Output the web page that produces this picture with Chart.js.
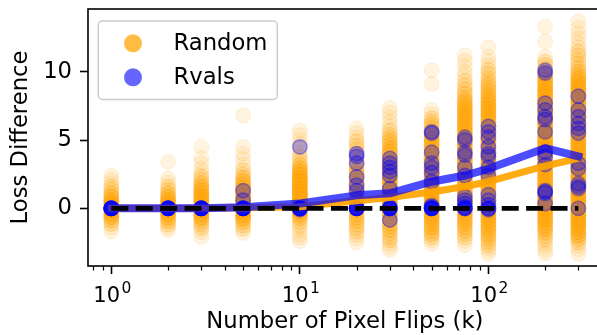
<!DOCTYPE html>
<html>
<head>
<meta charset="utf-8">
<script src="https://cdn.jsdelivr.net/npm/chart.js@4.4.1/dist/chart.umd.min.js"></script>
<style>
  html, body { margin: 0; padding: 0; background: #ffffff; overflow: hidden; }
  #wrap { width: 597px; height: 335px; overflow: hidden; position: relative; }
  canvas { display: block; }
</style>
</head>
<body>
<div id="wrap"><canvas id="chart" width="611" height="335"></canvas></div>
<script>
// Number of flipped pixels (thousands) for each experiment column
const flipCounts = [1, 2, 3, 5, 10, 20, 30, 50, 75, 100, 200, 300];

// Random-flip trials per flip count, as [loss difference, number of trials]
const randomAt1 = [[2.4,1],[2.1,1],[1.85,1],[1.6,2],[1.35,2],[1.1,3],[0.85,4],[0.6,6],[0.35,7],[0.1,7],[0.0,8],[-0.15,7],[-0.4,6],[-0.65,5],[-0.9,3],[-1.15,2],[-1.4,1],[-1.7,1]];
const randomAt2 = [[3.4,1],[2.2,1],[1.9,1],[1.6,2],[1.35,2],[1.1,3],[0.85,4],[0.6,6],[0.35,6],[0.1,7],[0.0,7],[-0.2,6],[-0.45,6],[-0.7,4],[-0.95,3],[-1.2,2],[-1.4,1],[-1.6,1]];
const randomAt3 = [[4.5,1],[3.7,1],[3.3,1],[2.9,1],[2.6,1],[2.35,2],[2.1,2],[1.85,3],[1.6,4],[1.35,5],[1.1,5],[0.85,6],[0.6,6],[0.35,6],[0.1,7],[0.0,6],[-0.2,6],[-0.45,6],[-0.7,5],[-0.95,3],[-1.2,2],[-1.45,2],[-1.75,1],[-2.1,1]];
const randomAt5 = [[6.8,1],[4.5,1],[4.0,1],[3.6,1],[3.2,1],[2.8,2],[2.5,2],[2.25,3],[2.0,4],[1.75,4],[1.5,5],[1.25,5],[1.0,6],[0.75,6],[0.5,6],[0.25,6],[0.0,7],[-0.25,6],[-0.5,6],[-0.75,5],[-1.0,3],[-1.25,2],[-1.5,2],[-1.8,1]];
const randomAt10 = [[5.7,1],[5.35,1],[5.0,1],[4.7,1],[4.4,1],[4.1,1],[3.8,2],[3.5,2],[3.2,3],[2.95,4],[2.7,5],[2.45,6],[2.2,6],[1.95,7],[1.7,7],[1.45,7],[1.2,7],[0.95,7],[0.7,7],[0.45,7],[0.2,7],[0.0,6],[-0.25,5],[-0.5,4],[-0.75,3],[-1.0,2],[-1.3,2],[-1.6,1],[-1.9,1],[-2.15,1],[-2.4,1]];
const randomAt20 = [[5.85,1],[5.5,1],[5.2,1],[4.9,2],[4.6,2],[4.3,2],[4.0,2],[3.7,2],[3.4,3],[3.1,3],[2.8,3],[2.55,4],[2.3,4],[2.05,4],[1.8,4],[1.55,4],[1.3,4],[1.05,4],[0.8,4],[0.55,4],[0.3,4],[0.05,4],[-0.2,3],[-0.45,3],[-0.7,3],[-0.95,3],[-1.2,2],[-1.45,2],[-1.7,2],[-1.95,1],[-2.2,1],[-2.5,1]];
const randomAt30 = [[7.35,1],[7.0,1],[6.65,1],[6.3,1],[6.0,1],[5.7,2],[5.4,2],[5.15,3],[4.9,3],[4.65,3],[4.4,4],[4.15,4],[3.9,4],[3.65,5],[3.4,5],[3.15,5],[2.9,5],[2.65,5],[2.4,6],[2.15,6],[1.9,6],[1.65,6],[1.4,6],[1.15,6],[0.9,6],[0.65,6],[0.4,6],[0.15,6],[-0.1,5],[-0.35,5],[-0.6,4],[-0.85,4],[-1.1,3],[-1.35,3],[-1.6,3],[-1.85,2],[-2.1,2],[-2.35,2],[-2.6,1],[-2.85,1],[-3.05,1]];
const randomAt50 = [[10.1,1],[9.1,1],[7.2,1],[6.9,1],[6.6,2],[6.35,2],[6.1,3],[5.85,3],[5.6,4],[5.35,4],[5.1,5],[4.85,5],[4.6,5],[4.35,5],[4.1,5],[3.85,5],[3.6,5],[3.35,5],[3.1,5],[2.85,5],[2.6,6],[2.35,6],[2.1,6],[1.85,6],[1.6,6],[1.35,6],[1.1,6],[0.85,6],[0.6,6],[0.35,6],[0.1,6],[-0.15,5],[-0.4,5],[-0.65,5],[-0.9,4],[-1.15,4],[-1.4,4],[-1.65,3],[-1.9,3],[-2.15,2],[-2.35,1],[-2.6,1]];
const randomAt75 = [[11.2,1],[10.8,1],[10.4,1],[10.0,1],[9.7,1],[9.35,2],[9.0,2],[8.7,2],[8.4,3],[8.1,3],[7.85,4],[7.6,4],[7.35,5],[7.1,5],[6.85,5],[6.6,5],[6.35,5],[6.1,5],[5.85,5],[5.6,5],[5.35,5],[5.1,5],[4.85,5],[4.6,5],[4.35,5],[4.1,5],[3.85,5],[3.6,5],[3.35,5],[3.1,5],[2.85,5],[2.6,5],[2.35,5],[2.1,5],[1.85,5],[1.6,5],[1.35,5],[1.1,5],[0.85,5],[0.6,5],[0.35,5],[0.1,5],[-0.15,5],[-0.4,5],[-0.65,4],[-0.9,4],[-1.15,4],[-1.4,3],[-1.65,3],[-1.9,2],[-2.15,2],[-2.4,1],[-2.7,1]];
const randomAt100 = [[11.8,1],[11.1,1],[10.75,1],[10.45,1],[10.15,2],[9.85,2],[9.55,2],[9.3,2],[9.05,3],[8.8,3],[8.55,3],[8.3,4],[8.05,4],[7.8,5],[7.55,5],[7.3,5],[7.05,5],[6.8,5],[6.55,5],[6.3,5],[6.05,5],[5.8,5],[5.55,5],[5.3,5],[5.05,5],[4.8,5],[4.55,5],[4.3,5],[4.05,5],[3.8,5],[3.55,5],[3.3,5],[3.05,5],[2.8,5],[2.55,5],[2.3,5],[2.05,5],[1.8,5],[1.55,5],[1.3,5],[1.05,5],[0.8,5],[0.55,5],[0.3,5],[0.05,5],[-0.2,5],[-0.45,5],[-0.7,5],[-0.95,5],[-1.2,4],[-1.45,4],[-1.7,4],[-1.95,3],[-2.2,3],[-2.45,2],[-2.7,2],[-2.9,1],[-3.1,1],[-3.35,1]];
const randomAt200 = [[13.3,1],[12.2,1],[11.1,1],[10.75,2],[10.5,2],[10.2,3],[9.95,3],[9.7,4],[9.45,5],[9.2,5],[8.95,5],[8.7,6],[8.45,6],[8.2,6],[7.95,6],[7.7,6],[7.45,6],[7.2,6],[6.95,6],[6.7,6],[6.45,6],[6.2,6],[5.95,6],[5.7,6],[5.45,6],[5.2,6],[4.95,6],[4.7,6],[4.45,6],[4.2,6],[3.95,6],[3.7,6],[3.45,6],[3.2,6],[2.95,6],[2.7,6],[2.45,6],[2.2,6],[1.95,6],[1.7,6],[1.45,6],[1.2,6],[0.95,6],[0.7,6],[0.45,6],[0.2,6],[-0.05,6],[-0.3,6],[-0.55,5],[-0.8,5],[-1.05,5],[-1.3,4],[-1.55,4],[-1.8,3],[-2.05,2],[-2.3,2],[-2.55,1],[-2.8,1],[-3.05,1],[-3.3,1]];
const randomAt300 = [[13.7,1],[13.2,1],[12.8,1],[12.45,1],[12.1,1],[11.8,1],[11.5,2],[11.2,2],[10.9,2],[10.6,2],[10.3,3],[10.0,3],[9.75,4],[9.5,5],[9.25,5],[9.0,6],[8.75,6],[8.5,6],[8.25,6],[8.0,6],[7.75,6],[7.5,6],[7.25,6],[7.0,6],[6.75,6],[6.5,6],[6.25,6],[6.0,6],[5.75,6],[5.5,6],[5.25,6],[5.0,6],[4.75,6],[4.5,6],[4.25,6],[4.0,6],[3.75,6],[3.5,6],[3.25,6],[3.0,6],[2.75,6],[2.5,6],[2.25,6],[2.0,6],[1.75,6],[1.5,6],[1.25,6],[1.0,6],[0.75,6],[0.5,6],[0.25,6],[0.0,6],[-0.25,6],[-0.5,6],[-0.75,6],[-1.0,6],[-1.25,6],[-1.5,5],[-1.75,5],[-2.0,4],[-2.25,3],[-2.5,2],[-2.75,1],[-3.0,1],[-3.35,1]];
const randomLoss = [randomAt1, randomAt2, randomAt3, randomAt5, randomAt10, randomAt20, randomAt30, randomAt50, randomAt75, randomAt100, randomAt200, randomAt300];

// Loss difference of every Rvals-guided trial, per flip count
const rvalsAt1 = [0, 0, 0, 0, 0, 0, 0, 0];
const rvalsAt2 = [0, 0, 0, 0, 0, 0, 0, 0];
const rvalsAt3 = [0, 0, 0, 0, 0, 0, 0, 0];
const rvalsAt5 = [1.3, 0.6, 0, 0, 0, 0, 0, 0, 0];
const rvalsAt10 = [4.5, 0, 0, 0, 0, 0, 0, -0.1];
const rvalsAt20 = [4.0, 3.8, 3.3, 2.3, 1.7, 1.3, 0, 0, 0, 0, 0, 0];
const rvalsAt30 = [3.65, 3.3, 3.0, 2.7, 2.4, 1.45, 0.1, 0, 0, 0, 0, 0, -0.85];
const rvalsAt50 = [5.6, 5.5, 4.1, 3.3, 3.0, 2.6, 1.95, 0.2, 0.1, 0, 0, 0, 0, 0];
const rvalsAt75 = [5.2, 5.0, 4.1, 3.9, 3.0, 2.4, 0.85, 0.6, 0.35, 0.1, 0, 0, 0];
const rvalsAt100 = [6.0, 5.6, 5.2, 4.5, 4.0, 3.8, 3.0, 2.4, 1.0, 0.6, 0.25, 0, 0, -0.1];
const rvalsAt200 = [10.1, 9.9, 7.7, 7.2, 6.7, 6.5, 5.6, 4.1, 3.8, 3.2, 1.3, 1.2, 1.1, 0.35];
const rvalsAt300 = [8.2, 7.2, 6.7, 6.2, 5.85, 5.5, 3.3, 2.9, 1.8, 1.6, 1.45, 0.0];
const rvalsLoss = [rvalsAt1, rvalsAt2, rvalsAt3, rvalsAt5, rvalsAt10, rvalsAt20, rvalsAt30, rvalsAt50, rvalsAt75, rvalsAt100, rvalsAt200, rvalsAt300];

// Mean loss difference per flip count
const randomMean = [0.0, 0.0, 0.0, 0.05, 0.12, 0.55, 0.8, 1.2, 1.6, 1.95, 3.1, 3.65];
const rvalsMean = [0.0, 0.0, 0.0, 0.08, 0.35, 0.95, 1.1, 1.95, 2.4, 2.9, 4.4, 3.8];

// Reference level: no change in loss
const baselineLevel = 0;

// Axis ticks
const xMajorTicks = [1, 10, 100];
const xMajorBase = '10';
const xMajorExponents = ['0', '1', '2'];
const xMinorTicks = [0.8, 0.9, 2, 3, 4, 5, 6, 7, 8, 9, 20, 30, 40, 50, 60, 70, 80, 90, 200, 300];
const yTicks = [0, 5, 10];

const FONT = "'DejaVu Sans', 'Liberation Sans', sans-serif";
const TEXT_SIZE = 22.7;

function toPoints(groups) {
  const pts = [];
  groups.forEach((bins, i) => bins.forEach(([v, n]) => {
    for (let k = 0; k < n; k++) pts.push({ x: flipCounts[i], y: v });
  }));
  return pts;
}
function toTrialPoints(groups) {
  const pts = [];
  groups.forEach((vals, i) => vals.forEach(v => pts.push({ x: flipCounts[i], y: v })));
  return pts;
}
function toLine(values) {
  return values.map((v, i) => ({ x: flipCounts[i], y: v }));
}

// Frame around the plotting area, short minor ticks and power-of-ten labels on the log axis
const axesFrame = {
  id: 'axesFrame',
  afterDatasetsDraw(chart) {
    const { ctx, chartArea: a } = chart;
    const xs = chart.scales.x;
    ctx.save();
    ctx.strokeStyle = '#000';
    ctx.lineWidth = 1.6;
    ctx.strokeRect(a.left, a.top, a.right - a.left, a.bottom - a.top);
    ctx.lineWidth = 1.2;
    ctx.beginPath();
    xMinorTicks.forEach(v => {
      const px = Math.round(xs.getPixelForValue(v)) + 0.5;
      ctx.moveTo(px, a.bottom);
      ctx.lineTo(px, a.bottom + 4.5);
    });
    ctx.stroke();

    const baseFont = '21px ' + FONT;
    const expFont = '15.5px ' + FONT;
    ctx.fillStyle = '#000';
    ctx.textAlign = 'left';
    ctx.textBaseline = 'alphabetic';
    xMajorTicks.forEach((v, i) => {
      const px = xs.getPixelForValue(v);
      ctx.font = baseFont;
      const wb = ctx.measureText(xMajorBase).width;
      ctx.font = expFont;
      const we = ctx.measureText(xMajorExponents[i]).width;
      const left = px - (wb + 1.5 + we) / 2 + 1;
      ctx.font = baseFont;
      ctx.fillText(xMajorBase, left, a.bottom + 35.7);
      ctx.font = expFont;
      ctx.fillText(xMajorExponents[i], left + wb + 1.5, a.bottom + 26.5);
    });
    ctx.restore();
  }
};

// Boxed legend in the upper-left corner of the plotting area
const legendColors = ['rgba(255,165,0,0.75)', 'rgba(0,0,255,0.6)'];
const boxedLegend = {
  id: 'boxedLegend',
  afterDraw(chart) {
    const { ctx, chartArea: a } = chart;
    const x0 = a.left + 10.3, y0 = a.top + 12, w = 179, h = 78.5, r = 4;
    ctx.save();
    ctx.beginPath();
    ctx.moveTo(x0 + r, y0);
    ctx.arcTo(x0 + w, y0, x0 + w, y0 + h, r);
    ctx.arcTo(x0 + w, y0 + h, x0, y0 + h, r);
    ctx.arcTo(x0, y0 + h, x0, y0, r);
    ctx.arcTo(x0, y0, x0 + w, y0, r);
    ctx.closePath();
    ctx.fillStyle = 'rgba(255,255,255,0.8)';
    ctx.fill();
    ctx.strokeStyle = '#cccccc';
    ctx.lineWidth = 1.5;
    ctx.stroke();
    const rows = [y0 + 22.3, y0 + 56.3];
    ctx.font = TEXT_SIZE + 'px ' + FONT;
    ctx.textBaseline = 'middle';
    ctx.textAlign = 'left';
    [0, 1].forEach(i => {
      ctx.beginPath();
      ctx.arc(x0 + 34.7, rows[i], 9, 0, Math.PI * 2);
      ctx.fillStyle = legendColors[i];
      ctx.fill();
      ctx.fillStyle = '#000';
      ctx.fillText(chart.data.datasets[i].label, x0 + 75.2, rows[i] + 1);
    });
    ctx.restore();
  }
};

new Chart(document.getElementById('chart'), {
  type: 'scatter',
  data: {
    datasets: [
      {
        label: 'Random',
        data: toPoints(randomLoss),
        backgroundColor: 'rgba(255,165,0,0.12)',
        borderColor: 'rgba(255,165,0,0.14)',
        borderWidth: 1,
        pointRadius: 7.4,
        order: 5
      },
      {
        label: 'Rvals',
        data: toTrialPoints(rvalsLoss),
        backgroundColor: 'rgba(0,0,255,0.3)',
        borderColor: 'rgba(0,0,255,0.35)',
        borderWidth: 1.5,
        pointRadius: 7.2,
        order: 4
      },
      {
        label: 'Random mean',
        data: toLine(randomMean),
        showLine: true,
        pointRadius: 0,
        borderColor: 'rgba(255,165,0,0.92)',
        borderWidth: 7,
        borderJoinStyle: 'round',
        borderCapStyle: 'square',
        order: 3
      },
      {
        label: 'Rvals mean',
        data: toLine(rvalsMean),
        showLine: true,
        pointRadius: 0,
        borderColor: 'rgba(0,0,255,0.7)',
        borderWidth: 8,
        borderJoinStyle: 'round',
        borderCapStyle: 'square',
        order: 2
      },
      {
        label: 'No change',
        data: [
          { x: flipCounts[0], y: baselineLevel },
          { x: flipCounts[flipCounts.length - 1], y: baselineLevel }
        ],
        showLine: true,
        pointRadius: 0,
        borderColor: '#000000',
        borderWidth: 4.7,
        borderDash: [17, 7.4],
        borderCapStyle: 'butt',
        order: 0
      }
    ]
  },
  options: {
    responsive: false,
    animation: false,
    devicePixelRatio: 1,
    events: [],
    layout: { padding: { left: 0, top: 9, right: 9.3, bottom: 0 } },
    plugins: {
      legend: { display: false },
      tooltip: { enabled: false }
    },
    scales: {
      x: {
        type: 'logarithmic',
        min: 0.752,
        max: 399,
        afterBuildTicks(scale) {
          scale.ticks = xMinorTicks.concat(xMajorTicks)
            .sort((p, q) => p - q)
            .map(v => ({ value: v, major: false }));
        },
        afterFit(scale) {
          scale.height = 69;
          scale.paddingLeft = 0;
          scale.paddingRight = 0;
        },
        ticks: {
          display: false,
          autoSkip: false,
          maxRotation: 0,
          minRotation: 0
        },
        grid: {
          drawOnChartArea: false,
          drawTicks: true,
          tickLength: 8,
          tickWidth: 1.6,
          tickColor: (c) => (c.tick && xMajorTicks.includes(c.tick.value)) ? '#000' : 'rgba(0,0,0,0)'
        },
        border: { display: false },
        title: {
          display: true,
          text: 'Number of Pixel Flips (k)',
          color: '#000',
          font: { family: FONT, size: TEXT_SIZE, lineHeight: 1 },
          padding: { top: 0, bottom: 1.25 }
        }
      },
      y: {
        min: -4.22,
        max: 14.59,
        afterBuildTicks(scale) {
          scale.ticks = yTicks.map(v => ({ value: v }));
        },
        afterFit(scale) {
          scale.width = 88;
          scale.paddingTop = 0;
          scale.paddingBottom = 0;
        },
        ticks: {
          padding: 8,
          color: '#000',
          font: { family: FONT, size: TEXT_SIZE },
          callback: (v) => String(v)
        },
        grid: {
          drawOnChartArea: false,
          drawTicks: true,
          tickLength: 8,
          tickWidth: 1.6,
          tickColor: '#000'
        },
        border: { display: false },
        title: {
          display: true,
          text: 'Loss Difference',
          color: '#000',
          font: { family: FONT, size: TEXT_SIZE, lineHeight: 1 },
          padding: { top: 9.35, bottom: 0 }
        }
      }
    }
  },
  plugins: [axesFrame, boxedLegend]
});
</script>
</body>
</html>
